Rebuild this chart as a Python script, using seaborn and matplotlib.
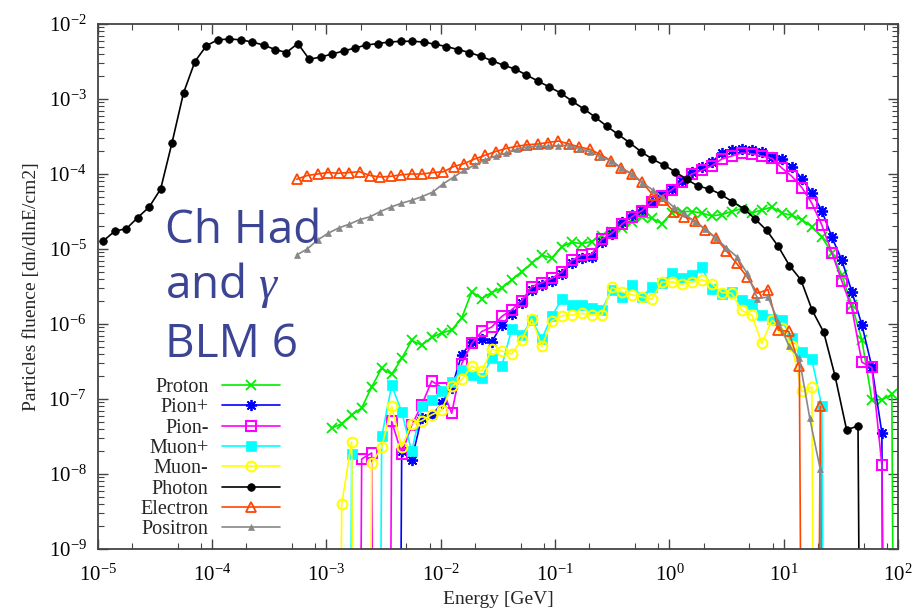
import matplotlib
matplotlib.use("Agg")
import matplotlib.pyplot as plt
import numpy as np
import pandas as pd
import seaborn as sns
from matplotlib.ticker import LogFormatterMathtext, LogLocator, NullFormatter

# bin centres in log10(E/GeV): (first bin, bin width) of each energy grid
PHOTON_GRID = (-4.95, 0.1)
HADRON_GRID = (-2.954, 0.0875)
LEPTON_GRID = (-3.26, 0.0916)

# decades shown on the axes
x_decades = np.arange(-5, 3)
y_decades = np.arange(-9, -1)

# log10 of the fluence in each bin, None = empty bin
proton = [
    -7.39, -7.33, -7.21, -7.12, -6.84, -6.59, -6.67, -6.46, -6.22, -6.28,
    -6.18, -6.12, -6.08, -5.92, -5.57, -5.66, -5.58, -5.52, -5.41, -5.30,
    -5.19, -5.08, -5.12, -4.97, -4.91, -4.93, -4.90, -4.82, -4.77, -4.72,
    -4.64, -4.57, -4.59, -4.66, -4.52, -4.50, -4.50, -4.52, -4.56, -4.54,
    -4.50, -4.46, -4.52, -4.48, -4.44, -4.52, -4.55, -4.61, -4.70, -4.84,
    -5.05, -5.35, -5.75, -6.21, -7.01, -7.01, -6.94, None,
]
pion_plus = [
    None, None, None, None, None, None, None, -7.70, -7.81, -7.25,
    -7.22, -7.06, -6.85, -6.41, -6.24, -6.20, -6.24, -6.01, -5.87, -5.72,
    -5.55, -5.48, -5.42, -5.33, -5.18, -5.12, -5.10, -4.90, -4.80, -4.64,
    -4.55, -4.48, -4.37, -4.28, -4.20, -4.09, -3.97, -3.90, -3.84, -3.72,
    -3.68, -3.67, -3.68, -3.70, -3.77, -3.80, -3.90, -4.06, -4.25, -4.49,
    -4.84, -5.15, -5.57, -6.01, -6.57, -7.45, None,
]
pion_minus = [
    None, None, None, -7.80, -7.72, None, -7.30, -7.73, -7.35, -7.08,
    -6.76, -6.85, -7.19, -6.53, -6.26, -6.10, -6.04, -5.90, -5.81, -5.69,
    -5.50, -5.45, -5.39, -5.31, -5.15, -5.08, -5.07, -4.87, -4.79, -4.67,
    -4.57, -4.49, -4.37, -4.29, -4.21, -4.10, -4.00, -3.95, -3.89, -3.80,
    -3.76, -3.72, -3.73, -3.76, -3.79, -3.92, -4.03, -4.18, -4.39, -4.68,
    -5.05, -5.43, -5.79, -6.51, -6.58, -7.88, None,
]
muon_plus = [
    None, None, -7.73, None, None, -7.50, -6.82, -7.17, -7.70, -7.10,
    -7.01, -6.89, -6.77, -6.62, -6.68, -6.72, -6.45, -6.56, -6.07, -6.15,
    -5.95, -6.20, -5.90, -5.67, -5.75, -5.75, -5.79, -5.81, -5.55, -5.64,
    -5.48, -5.64, -5.51, -5.45, -5.32, -5.39, -5.35, -5.24, -5.53, -5.60,
    -5.57, -5.68, -5.73, -5.88, -5.93, -5.95, -6.19, -6.37, -6.47, -7.10,
    None,
]
muon_minus = [
    None, -8.40, -7.57, None, -7.86, -7.64, -7.10, -7.64, -7.33, -7.29,
    -7.21, -7.15, -6.83, -6.74, -6.56, -6.63, -6.34, -6.36, -6.40, -6.21,
    -5.93, -6.30, -5.96, -5.89, -5.88, -5.86, -5.88, -5.88, -5.51, -5.57,
    -5.61, -5.64, -5.67, -5.44, -5.44, -5.47, -5.44, -5.41, -5.46, -5.58,
    -5.59, -5.82, -5.88, -6.26, -5.95, -6.05, -6.30, -6.90, -6.84, None,
]
photon = [
    -4.89, -4.76, -4.73, -4.58, -4.44, -4.20, -3.58, -2.92, -2.50, -2.29,
    -2.21, -2.20, -2.21, -2.24, -2.28, -2.34, -2.38, -2.26, -2.47, -2.44,
    -2.40, -2.36, -2.32, -2.28, -2.26, -2.24, -2.23, -2.23, -2.24, -2.27,
    -2.30, -2.34, -2.38, -2.43, -2.49, -2.55, -2.60, -2.68, -2.76, -2.84,
    -2.92, -3.03, -3.13, -3.24, -3.36, -3.47, -3.58, -3.70, -3.80, -3.88,
    -3.97, -4.07, -4.16, -4.20, -4.27, -4.37, -4.46, -4.60, -4.75, -4.96,
    -5.22, -5.41, -5.82, -6.11, -6.70, -7.41, -7.36, None,
]
electron = [
    -4.07, -4.02, -4.00, -3.98, -3.99, -3.98, -3.97, -4.02, -4.04, -4.03,
    -4.01, -4.00, -4.00, -3.98, -3.97, -3.90, -3.86, -3.80, -3.75, -3.70,
    -3.66, -3.63, -3.61, -3.60, -3.58, -3.56, -3.60, -3.64, -3.67, -3.74,
    -3.82, -3.92, -4.00, -4.11, -4.28, -4.35, -4.50, -4.57, -4.62, -4.74,
    -4.85, -5.02, -5.19, -5.37, -5.59, -5.54, -6.08, -6.10, -6.56, None,
    -7.10, None,
]
positron = [
    -5.08, -5.00, -4.88, -4.79, -4.72, -4.67, -4.61, -4.57, -4.50, -4.44,
    -4.39, -4.35, -4.30, -4.24, -4.13, -4.04, -3.95, -3.88, -3.81, -3.76,
    -3.72, -3.67, -3.64, -3.63, -3.63, -3.62, -3.62, -3.66, -3.70, -3.77,
    -3.82, -3.92, -4.00, -4.12, -4.21, -4.32, -4.44, -4.52, -4.64, -4.73,
    -4.85, -4.98, -5.10, -5.32, -5.66, -5.64, -5.97, -6.29, -6.46, -7.26,
    -7.94, None,
]

EMPTY = 1e-30  # empty bins drop far below the axis, like gnuplot does


def to_frame(values, grid):
    start, width = grid
    energy = 10.0 ** (start + width * np.arange(len(values)))
    fluence = np.array([EMPTY if v is None else 10.0**v for v in values])
    return pd.DataFrame({"energy": energy, "fluence": fluence})


# label, data, grid, colour, marker, size, face, edge width
series = [
    ("Proton", proton, HADRON_GRID, "#00ee00", "x", 7, "none", 1.3),
    ("Pion+", pion_plus, HADRON_GRID, "#0000ff", (8, 2, 0), 8, "none", 1.3),
    ("Pion-", pion_minus, HADRON_GRID, "#ff00ff", "s", 7.5, "none", 1.5),
    ("Muon+", muon_plus, HADRON_GRID, "#00ffff", "s", 6.5, "#00ffff", 0.5),
    ("Muon-", muon_minus, HADRON_GRID, "#ffff00", "o", 7, "none", 1.5),
    ("Photon", photon, PHOTON_GRID, "#000000", "o", 5.5, "#000000", 0.5),
    ("Electron", electron, LEPTON_GRID, "#ff4500", "^", 7, "none", 1.3),
    ("Positron", positron, LEPTON_GRID, "#888888", "^", 5, "#888888", 0.5),
]

sns.set_style("ticks")
plt.rcParams["font.family"] = ["Liberation Serif", "DejaVu Serif"]
plt.rcParams["mathtext.fontset"] = "custom"
plt.rcParams["mathtext.rm"] = "Liberation Serif"
plt.rcParams["mathtext.it"] = "Liberation Serif:italic"
plt.rcParams["mathtext.default"] = "rm"

fig = plt.figure(figsize=(9.24, 6.16), dpi=100)
ax = fig.add_axes([0.1058, 0.1088, 0.8661, 0.8522])
ax.set_xscale("log")
ax.set_yscale("log")

for label, values, grid, color, marker, size, face, mew in series:
    sns.lineplot(
        data=to_frame(values, grid),
        x="energy",
        y="fluence",
        ax=ax,
        estimator=None,
        sort=False,
        color=color,
        linewidth=1.2,
        marker=marker,
        markersize=size,
        markerfacecolor=face,
        markeredgecolor=color,
        markeredgewidth=mew,
        label=label,
    )

ax.set_xticks(10.0**x_decades)
ax.set_yticks(10.0**y_decades)
ax.xaxis.set_minor_locator(LogLocator(base=10, subs=(2, 5, 8), numticks=30))
ax.yaxis.set_minor_locator(LogLocator(base=10, subs=np.arange(2, 10), numticks=30))
ax.xaxis.set_major_formatter(LogFormatterMathtext())
ax.yaxis.set_major_formatter(LogFormatterMathtext())
ax.xaxis.set_minor_formatter(NullFormatter())
ax.yaxis.set_minor_formatter(NullFormatter())
ax.set_xlim(1e-5, 1e2)
ax.set_ylim(1e-9, 1e-2)

ax.tick_params(which="both", direction="in", top=True, right=True, colors="#444444",
               labelcolor="black", labelsize=15)
ax.tick_params(which="major", length=7, width=1.0)
ax.tick_params(which="minor", length=4, width=0.8)
ax.tick_params(axis="x", pad=11)
ax.tick_params(axis="y", pad=8)
for spine in ax.spines.values():
    spine.set_color("#444444")
    spine.set_linewidth(1.3)

ax.set_xlabel("Energy [GeV]", fontsize=14, labelpad=4)
ax.set_ylabel("Particles fluence [dn/dlnE/cm2]", fontsize=14, labelpad=6)

handles, labels = ax.get_legend_handles_labels()
ax.legend(
    handles,
    labels,
    loc="center right",
    bbox_to_anchor=(0.2277, 0.172),
    frameon=False,
    markerfirst=False,
    fontsize=14.5,
    handlelength=2.9,
    handletextpad=0.65,
    labelspacing=0.06,
    borderpad=0,
    borderaxespad=0,
    numpoints=1,
)

note_style = dict(transform=ax.transAxes, family="Open Sans", fontsize=33,
                  color="#3c4494", va="baseline", ha="left")
ax.text(0.084, 0.5834, "Ch Had", **note_style)
ax.text(0.084, 0.478, r"and $\mathit{\gamma}$", **note_style)
ax.text(0.084, 0.3663, "BLM 6", **note_style)

fig.savefig("out.png", dpi=100)
